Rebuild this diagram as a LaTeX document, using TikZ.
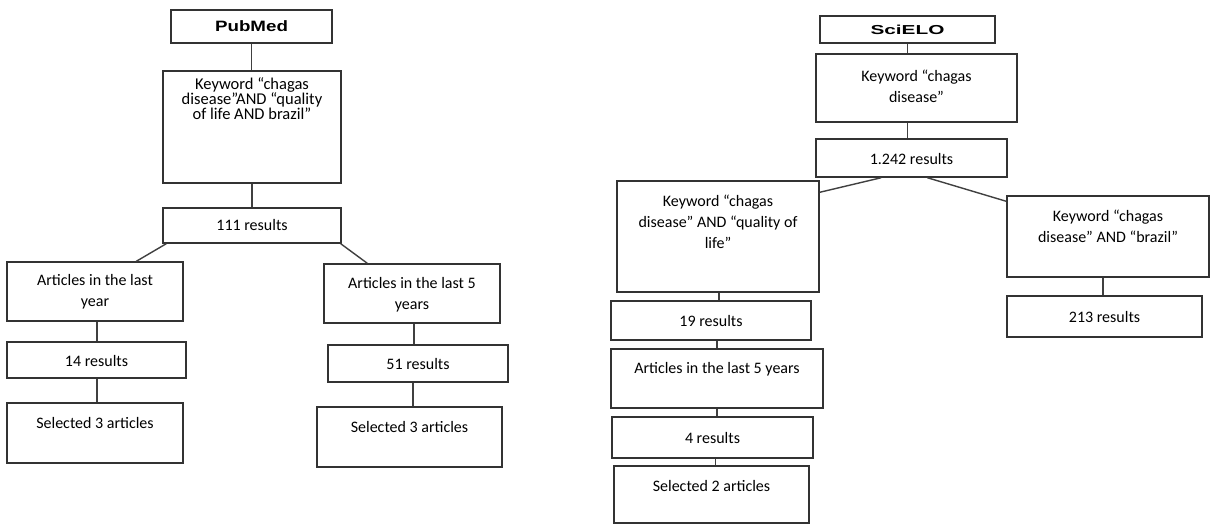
\documentclass[tikz,border=0pt]{standalone}
\usepackage{fontspec}
\setmainfont{Carlito}
\newfontfamily\hdfonta[FakeStretch=1.25]{Liberation Sans}
\newfontfamily\hdfontb[FakeStretch=1.6]{Liberation Sans}
\usetikzlibrary{calc}
\newcommand{\tightlines}{\lineskiplimit=-20pt\relax\lineskip=0pt\relax}
\tikzset{
  box/.style={draw=black!80, line width=1.4pt, inner sep=0pt},
  txt/.style={align=center, text=black, font=\fontsize{16}{21}\selectfont, inner sep=0pt},
  conn/.style={draw=black!75, line width=1.4pt},
}
% name, left, top, right, bottom, text centre y, text
\newcommand{\flowbox}[7]{%
  \node[box, minimum width={(#4)-(#2)}, minimum height={(#5)-(#3)}] (#1) at ({((#2)+(#4))/2},{((#3)+(#5))/2}) {};
  \node[txt] (#1t) at ({((#2)+(#4))/2},#6) {#7};
}
\begin{document}
\begin{tikzpicture}[x=1pt, y=-1pt]
\path[fill=white, use as bounding box] (0,0) rectangle (1213,525);

% ---------------- PubMed ----------------
\flowbox{pub}{171}{10}{332}{43}{26.5}{\hdfonta\bfseries\fontsize{15}{17}\selectfont PubMed}
\node[box, minimum width=178, minimum height=112] (pk) at (252,127) {};
\node[txt, font={\fontsize{16.5}{15}\selectfont\tightlines}] (pkt) at (252,98.5) {Keyword “chagas\\disease”AND “quality\\of life AND brazil”};
\flowbox{p111}{163}{208}{341}{243}{225.5}{111 results}
\flowbox{pa1}{7}{262}{183}{321}{292}{Articles in the last\\year}
\flowbox{p14}{7}{342}{186}{378}{361}{14 results}
\flowbox{ps1}{7}{403}{183}{463}{423}{Selected 3 articles}
\flowbox{pa5}{324}{264}{500}{323}{295}{Articles in the last 5\\years}
\flowbox{p51}{328}{345}{508}{382}{364}{51 results}
\flowbox{ps2}{317}{407}{502}{467}{427}{Selected 3 articles}

\draw[conn] (pub.south) -- (pub.south |- pk.north);
\draw[conn] (pk.south) -- (pk.south |- p111.north);
\draw[conn] ($(p111.south west)+(4,0)$) -- ($(pa1.north west)+(130,0)$);
\draw[conn] ($(p111.south east)+(-1,0)$) -- ($(pa5.north west)+(44,0)$);
\draw[conn] ([xshift=2pt]pa1.south) -- ([xshift=2pt]pa1.south |- p14.north);
\draw[conn] ([xshift=0.5pt]p14.south) -- ([xshift=0.5pt]p14.south |- ps1.north);
\draw[conn] ([xshift=2pt]pa5.south) -- ([xshift=2pt]pa5.south |- p51.north);
\draw[conn] ([xshift=-5pt]p51.south) -- ([xshift=-5pt]p51.south |- ps2.north);

% ---------------- SciELO ----------------
\flowbox{sci}{820}{16}{995}{43}{29.5}{\hdfontb\bfseries\fontsize{13}{15}\selectfont SciELO}
\flowbox{sk}{816}{54}{1017}{122}{86.5}{Keyword “chagas\\disease”}
\flowbox{s1242}{816}{139}{1007}{177}{159}{1.242 results}
\flowbox{sq}{617}{181}{819}{292}{222}{Keyword “chagas\\disease” AND “quality of\\life”}
\flowbox{sb}{1007}{196}{1209}{277}{226.5}{Keyword “chagas\\disease” AND “brazil”}
\flowbox{s213}{1007}{296}{1202}{337}{316.5}{213 results}
\flowbox{s19}{611}{301}{811}{340}{320.5}{19 results}
\flowbox{sa5}{611}{349}{823}{408}{369}{Articles in the last 5 years}
\flowbox{s4}{612}{417}{813}{458}{437.5}{4 results}
\flowbox{ss2}{614}{466}{809}{523}{486}{Selected 2 articles}

\draw[conn] (sci.south) -- (sci.south |- sk.north);
\draw[conn] ([xshift=-9pt]sk.south) -- ([xshift=-9pt]sk.south |- s1242.north);
\draw[conn] ($(s1242.south west)+(66,0)$) -- ($(sq.north east)+(0,12)$);
\draw[conn] ($(s1242.south west)+(112,0)$) -- ($(sb.north west)+(0,6)$);
\draw[conn] ([xshift=-5pt]sb.south) -- ([xshift=-5pt]sb.south |- s213.north);
\draw[conn] ([xshift=1pt]sq.south) -- ([xshift=1pt]sq.south |- s19.north);
\draw[conn] ([xshift=6pt]s19.south) -- ([xshift=6pt]s19.south |- sa5.north);
\draw[conn] (sa5.south) -- (sa5.south |- s4.north);
\draw[conn] ([xshift=3pt]s4.south) -- ([xshift=3pt]s4.south |- ss2.north);
\end{tikzpicture}
\end{document}
